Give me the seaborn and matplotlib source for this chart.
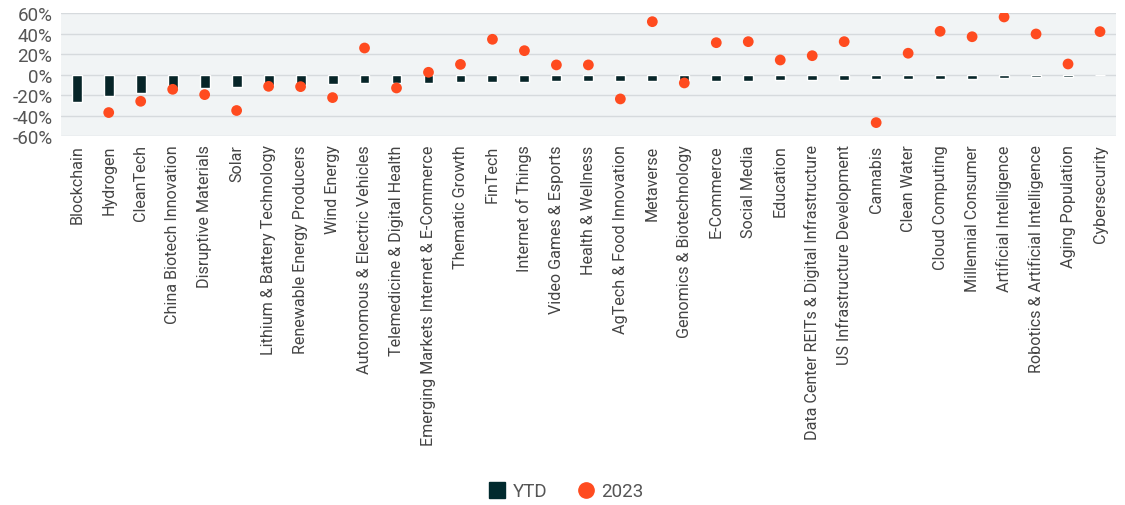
import numpy as np
import pandas as pd
import seaborn as sns
import matplotlib.pyplot as plt
from matplotlib.lines import Line2D

themes = ["Blockchain", "Hydrogen", "CleanTech", "China Biotech Innovation", "Disruptive Materials",
          "Solar", "Lithium & Battery Technology", "Renewable Energy Producers", "Wind Energy",
          "Autonomous & Electric Vehicles", "Telemedicine & Digital Health",
          "Emerging Markets Internet & E-Commerce", "Thematic Growth", "FinTech", "Internet of Things",
          "Video Games & Esports", "Health & Wellness", "AgTech & Food Innovation", "Metaverse",
          "Genomics & Biotechnology", "E-Commerce", "Social Media", "Education",
          "Data Center REITs & Digital Infrastructure", "US Infrastructure Development", "Cannabis",
          "Clean Water", "Cloud Computing", "Millennial Consumer", "Artificial Intelligence",
          "Robotics & Artificial Intelligence", "Aging Population", "Cybersecurity"]

ytd = [-26.3, -20.5, -17.9, -13.3, -12.7, -12.3, -10.0, -9.7, -9.4, -8.4, -8.0,
       -8.0, -7.3, -7.2, -7.2, -6.3, -6.3, -6.3, -5.8, -6.3, -5.8, -5.8, -5.6,
       -5.3, -5.0, -4.5, -4.5, -4.5, -3.8, -3.5, -2.5, -1.9, -0.6]

y2023 = [None, -37.0, -26.0, -14.3, -19.5, -35.0, -11.4, -11.7, -22.4, 26.0, -13.0,
         2.3, 10.0, 34.5, 23.4, 9.5, 9.5, -23.7, 51.7, -8.1, 31.2, 32.2, 14.3,
         18.5, 32.2, -46.8, 20.9, 42.3, 37.0, 56.3, 39.7, 10.4, 42.0]

ytd_colors = ["#012a2e"] * (len(themes) - 1) + ["#a9bcc4"]

df = pd.DataFrame({"theme": themes, "ytd": ytd,
                   "y2023": [np.nan if v is None else v for v in y2023]})

sns.set_style("white")
plt.rcParams["font.family"] = ["Roboto", "DejaVu Sans"]

fig = plt.figure(figsize=(11.25, 5.06), dpi=100)
ax = fig.add_axes([0.054, 0.729, 0.938, 0.243])
ax.set_facecolor("#f1f4f5")

sns.barplot(data=df, x="theme", y="ytd", hue="theme", palette=ytd_colors, legend=False,
            width=0.31, ax=ax, zorder=2)
sns.scatterplot(data=df.dropna(), x="theme", y="y2023", color="#ff4b1f", s=60,
                edgecolor="none", ax=ax, zorder=3)

ax.set_xlim(-0.5, len(themes) - 0.5)
ax.set_ylim(-60, 60)
ax.set_yticks(range(-60, 61, 20))
ax.set_yticklabels([f"{v}%" for v in range(-60, 61, 20)], fontsize=13.5, color="#555555")
ax.grid(axis="y", color="#d6dadd", linewidth=1, zorder=0)
ax.set_axisbelow(True)
ax.tick_params(axis="x", labelrotation=90, labelsize=11.6, labelcolor="#444444", length=0, pad=6)
ax.tick_params(axis="y", length=0, pad=6)
ax.set_xlabel("")
ax.set_ylabel("")
for s in ax.spines.values():
    s.set_visible(False)

handles = [Line2D([], [], marker="s", linestyle="none", color="#012a2e", markersize=11),
           Line2D([], [], marker="o", linestyle="none", color="#ff4b1f", markersize=11)]
fig.legend(handles, ["YTD", "2023"], loc="center", bbox_to_anchor=(0.503, 0.027), ncol=2,
           frameon=False, fontsize=13.5, handlelength=1.0, handletextpad=0.3,
           columnspacing=1.6, labelcolor="#555555")

fig.savefig("out.png", dpi=100)
